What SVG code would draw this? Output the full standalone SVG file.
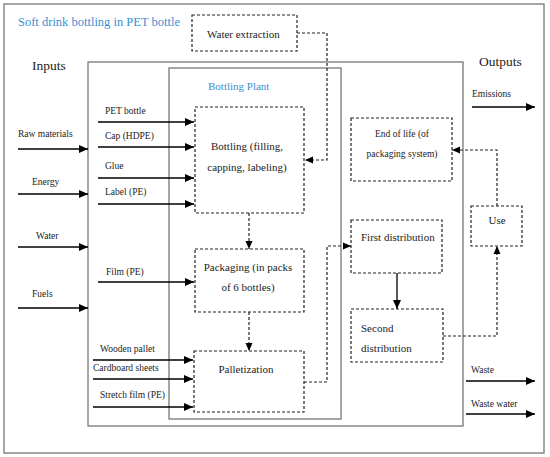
<svg xmlns="http://www.w3.org/2000/svg" width="550" height="457" viewBox="0 0 550 457">
<defs>
<marker id="ah" markerWidth="10" markerHeight="8" refX="9" refY="4" orient="auto" markerUnits="userSpaceOnUse"><path d="M0,0 L9,4 L0,8 z" fill="#000"/></marker>
<marker id="ahs" markerWidth="9" markerHeight="8" refX="8" refY="4" orient="auto" markerUnits="userSpaceOnUse"><path d="M0,0.5 L8,4 L0,7.5 z" fill="#000"/></marker>
<style>
.frame{fill:none;stroke:#777;stroke-width:1.3}
.dbox{fill:#fff;stroke:#222;stroke-width:1.2;stroke-dasharray:3,2}
.t{font-family:"Liberation Serif","Times New Roman",serif;fill:#222}
.s{font-size:9.5px}
.b{font-size:11px}
.h{font-size:13.5px}
.blue{fill:#3a8fd0}
.arr{stroke:#000;stroke-width:1.3;fill:none;marker-end:url(#ah)}
.darr{stroke:#222;stroke-width:1.2;fill:none;stroke-dasharray:3,2;marker-end:url(#ahs)}
.m{text-anchor:middle}
</style>
</defs>
<rect x="0" y="0" width="550" height="457" fill="#fff"/>
<g id="frames">
<rect class="frame" x="4" y="4" width="540" height="449"/>
<rect class="frame" x="88" y="62" width="375" height="364"/>
<rect class="frame" x="169" y="68" width="172" height="351"/>
</g>
<g id="labels">
<text class="t blue" x="18" y="26" font-size="12.5">Soft drink bottling in PET bottle</text>
<text class="t h" x="32" y="70">Inputs</text>
<text class="t h" x="479" y="66">Outputs</text>
<text class="t b blue" x="208" y="90">Bottling Plant</text>
<text class="t s" x="18" y="137">Raw materials</text>
<text class="t s" x="32" y="185">Energy</text>
<text class="t s" x="36" y="239">Water</text>
<text class="t s" x="32" y="297">Fuels</text>
<text class="t s" x="105" y="114">PET bottle</text>
<text class="t s" x="105" y="139">Cap (HDPE)</text>
<text class="t s" x="105" y="169">Glue</text>
<text class="t s" x="105" y="195">Label (PE)</text>
<text class="t s" x="106" y="275">Film (PE)</text>
<text class="t s" x="100" y="352">Wooden pallet</text>
<text class="t s" x="93" y="371">Cardboard sheets</text>
<text class="t s" x="100" y="398">Stretch film (PE)</text>
<text class="t s" x="472" y="97">Emissions</text>
<text class="t s" x="471" y="373">Waste</text>
<text class="t s" x="471" y="407">Waste water</text>
</g>
<g id="connectors">
<line class="arr" x1="18" y1="149" x2="88" y2="149"/>
<line class="arr" x1="18" y1="194" x2="88" y2="194"/>
<line class="arr" x1="18" y1="247" x2="88" y2="247"/>
<line class="arr" x1="18" y1="308" x2="88" y2="308"/>
<line class="arr" x1="98" y1="122" x2="194" y2="122"/>
<line class="arr" x1="98" y1="147" x2="194" y2="147"/>
<line class="arr" x1="98" y1="178" x2="194" y2="178"/>
<line class="arr" x1="98" y1="204" x2="194" y2="204"/>
<line class="arr" x1="98" y1="282" x2="194" y2="282"/>
<line class="arr" x1="93" y1="360" x2="193" y2="360"/>
<line class="arr" x1="93" y1="379" x2="193" y2="379"/>
<line class="arr" x1="93" y1="407" x2="193" y2="407"/>
<line class="arr" x1="472" y1="107" x2="535" y2="107"/>
<line class="arr" x1="466" y1="381" x2="535" y2="381"/>
<line class="arr" x1="466" y1="414" x2="535" y2="414"/>
<path class="darr" d="M297,33 H327 V160 H305"/>
<path class="darr" d="M249,213 V249"/>
<path class="darr" d="M249,312 V351"/>
<path class="darr" d="M304,382 H327 V246 H351"/>
<path class="arr" d="M397,273 V309"/>
<path class="darr" d="M443,336 H497 V246"/>
<path class="darr" d="M497,206 V150 H452"/>
</g>
<g id="water-extraction">
<rect class="dbox" x="192" y="15" width="105" height="36"/>
<text class="t b" x="207" y="38">Water extraction</text>
</g>
<g id="bottling">
<rect class="dbox" x="195" y="107" width="109" height="106"/>
<text class="t b m" x="247" y="150">Bottling (filling,</text>
<text class="t b m" x="247" y="171">capping, labeling)</text>
</g>
<g id="packaging">
<rect class="dbox" x="195" y="249" width="109" height="63"/>
<text class="t b m" x="248" y="271">Packaging (in packs</text>
<text class="t b m" x="248" y="291">of 6 bottles)</text>
</g>
<g id="palletization">
<rect class="dbox" x="194" y="351" width="110" height="61"/>
<text class="t b m" x="246" y="373">Palletization</text>
</g>
<g id="end-of-life">
<rect class="dbox" x="351" y="118" width="101" height="63"/>
<text class="t s m" x="402" y="137">End of life (of</text>
<text class="t s m" x="402" y="157">packaging system)</text>
</g>
<g id="first-distribution">
<rect class="dbox" x="351" y="220" width="91" height="53"/>
<text class="t b" x="361" y="241">First distribution</text>
</g>
<g id="second-distribution">
<rect class="dbox" x="351" y="309" width="92" height="53"/>
<text class="t b" x="361" y="332">Second</text>
<text class="t b" x="361" y="352">distribution</text>
</g>
<g id="use">
<rect class="dbox" x="471" y="206" width="51" height="40"/>
<text class="t b m" x="497" y="224">Use</text>
</g>
</svg>
